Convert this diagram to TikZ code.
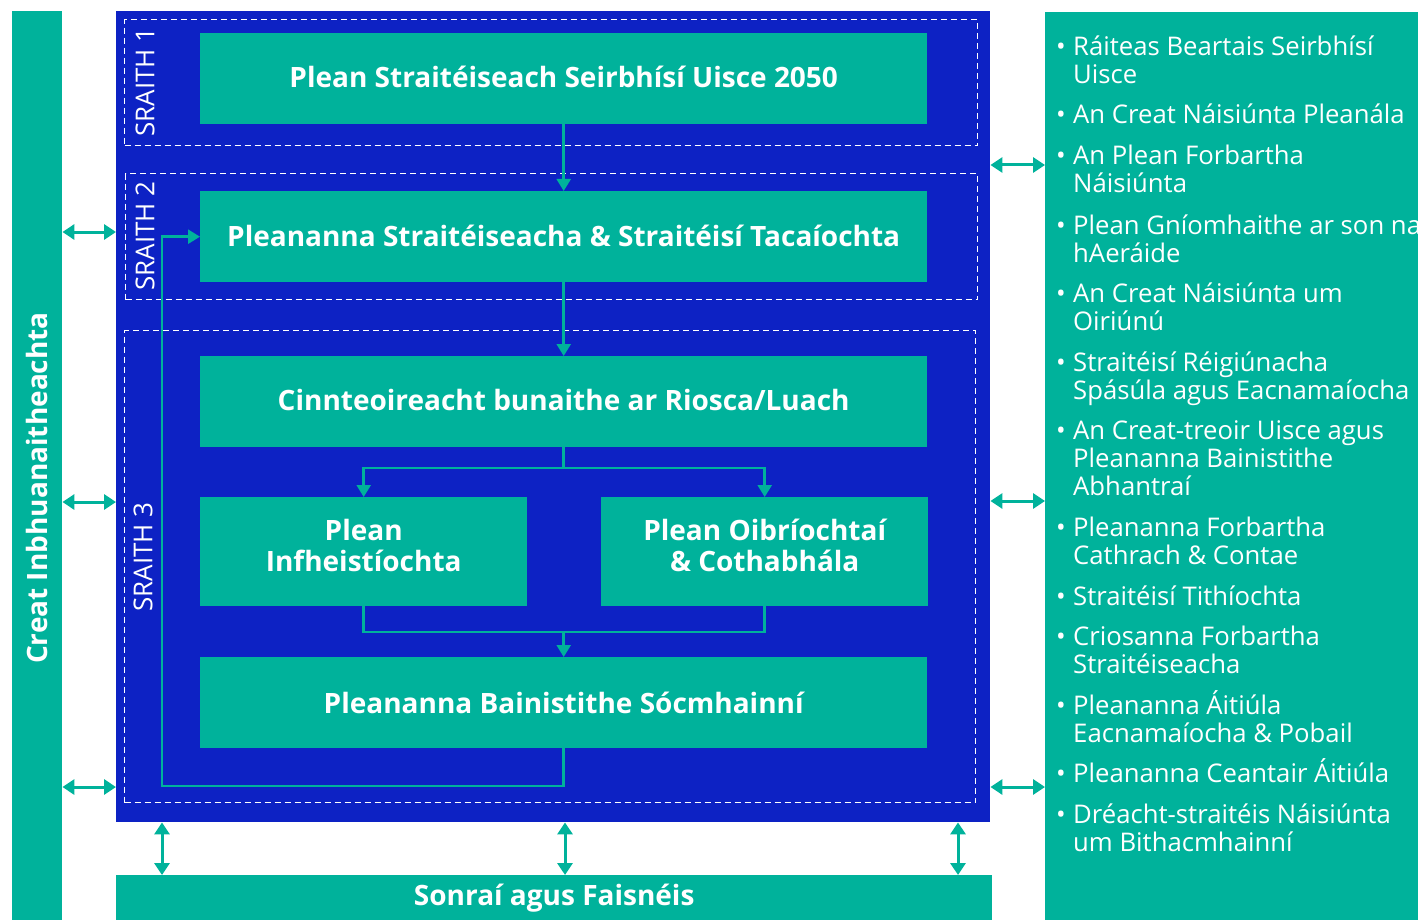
\documentclass[tikz,border=0pt]{standalone}
\usepackage{fontspec}
\setmainfont{Open Sans}
\usetikzlibrary{arrows.meta,calc}
\definecolor{teal1}{RGB}{0,178,155}
\definecolor{blue1}{RGB}{13,34,196}
\tikzset{
  box/.style={fill=teal1, text=white, inner sep=0pt, align=center, anchor=north west, font=\bfseries\fontsize{28}{31}\selectfont},
  boxtext/.style={text=white, inner sep=0pt, align=center, font=\bfseries\fontsize{28}{31}\selectfont},
  flow/.style={draw=teal1, line width=2.5pt, -{Triangle[width=14pt,length=12pt]}},
  plain/.style={draw=teal1, line width=2.5pt},
  dbl/.style={draw=teal1, line width=3pt, {Triangle[width=15pt,length=12pt]}-{Triangle[width=15pt,length=12pt]}},
  phase/.style={draw=white, dash pattern=on 6pt off 4pt, line width=1.3pt, anchor=north west, inner sep=0pt},
  phaselabel/.style={text=white, rotate=90, font=\fontsize{26}{30}\selectfont, inner sep=0pt},
  item/.style={text=white, anchor=base west, inner sep=0pt, font=\fontsize{25.7}{28}\selectfont},
  bul/.style={text=white, anchor=base, inner sep=0pt, font=\fontsize{25.7}{28}\selectfont}
}
\begin{document}
\begin{tikzpicture}[x=1pt,y=-1pt]
\useasboundingbox (0,0) rectangle (1418,920);
% left bar
\node[fill=teal1, inner sep=0pt, anchor=north west, minimum width=50pt, minimum height=909pt] (lbar) at (12,11) {};
\node[text=white, rotate=90, inner sep=0pt, font=\bfseries\fontsize{28}{32}\selectfont] (lbl) at (37,488) {Creat Inbhuanaitheachta};
% main blue panel
\node[fill=blue1, inner sep=0pt, anchor=north west, minimum width=874pt, minimum height=811pt] (blue) at (116,11) {};
% right panel
\node[fill=teal1, inner sep=0pt, anchor=north west, minimum width=373pt, minimum height=908pt] (rpanel) at (1045,12) {};
% bottom bar
\node[fill=teal1, text=white, inner sep=0pt, anchor=north west, minimum width=876pt, minimum height=45pt, font=\bfseries\fontsize{28}{32}\selectfont] (bbar) at (116,875) {Sonraí agus Faisnéis};
% phase frames
\node[phase, minimum width=853pt, minimum height=126pt] (s1) at (124,19) {};
\node[phase, minimum width=852pt, minimum height=126pt] (s2) at (125,173) {};
\node[phase, minimum width=851pt, minimum height=472pt] (s3) at (124,330) {};
\node[phaselabel] (l1) at (145,82) {SRAITH 1};
\node[phaselabel] (l2) at (145,236) {SRAITH 2};
\node[phaselabel] (l3) at (143,557) {SRAITH 3};
% boxes
\node[box, minimum width=727pt, minimum height=91pt] (b1) at (200,33) {};
\node[boxtext] (t1) at ($(b1.center)+(0,-2)$) {Plean Straitéiseach Seirbhísí Uisce 2050};
\node[box, minimum width=727pt, minimum height=91pt] (b2) at (200,191) {};
\node[boxtext] (t2) at ($(b2.center)+(0,-1)$) {Pleananna Straitéiseacha \& Straitéisí Tacaíochta};
\node[box, minimum width=727pt, minimum height=91pt] (b3) at (200,356) {};
\node[boxtext] (t3) at ($(b3.center)+(0,-2)$) {Cinnteoireacht bunaithe ar Riosca/Luach};
\node[box, minimum width=327pt, minimum height=109pt] (b4) at (200,497) {};
\node[boxtext] (t4) at ($(b4.center)+(0,-6)$) {Plean\\Infheistíochta};
\node[box, minimum width=327pt, minimum height=109pt] (b5) at (601,497) {};
\node[boxtext] (t5) at ($(b5.center)+(0,-6)$) {Plean Oibríochtaí\\\& Cothabhála};
\node[box, minimum width=727pt, minimum height=91pt] (b6) at (200,657) {};
\node[boxtext] (t6) at (b6.center) {Pleananna Bainistithe Sócmhainní};
% junctions
\coordinate (j1) at (565,468);
\coordinate (j2) at (565,632);
\coordinate (j3) at (162,786);
% flows
\draw[flow] (b1.south) -- (b2.north);
\draw[flow] (b2.south) -- (b3.north);
\draw[plain] (b3.south) -- (b3.south |- j1);
\draw[flow] (b3.south |- j1) -| (b4.north);
\draw[flow] (b3.south |- j1) -| (b5.north);
\draw[plain] (b4.south) -- (b4.south |- j2) -- (b5.south |- j2) -- (b5.south);
\draw[flow] (b6.north |- j2) -- (b6.north);
\draw[flow] (b6.south) -- (b6.south |- j3) -- (j3) -- (j3 |- b2.west) -- (b2.west);
% left double arrows
\coordinate (y1) at (0,232);
\coordinate (y2) at (0,502);
\coordinate (y3) at (0,787);
\draw[dbl] (lbar.east |- y1) -- (blue.west |- y1);
\draw[dbl] (lbar.east |- y2) -- (blue.west |- y2);
\draw[dbl] (lbar.east |- y3) -- (blue.west |- y3);
% right double arrows
\coordinate (z1) at (0,165);
\coordinate (z2) at (0,501);
\coordinate (z3) at (0,787);
\draw[dbl] (blue.east |- z1) -- (rpanel.west |- z1);
\draw[dbl] (blue.east |- z2) -- (rpanel.west |- z2);
\draw[dbl] (blue.east |- z3) -- (rpanel.west |- z3);
% bottom double arrows
\coordinate (x1) at (162,0);
\coordinate (x2) at (565,0);
\coordinate (x3) at (958,0);
\draw[dbl] (x1 |- blue.south) -- (x1 |- bbar.north);
\draw[dbl] (x2 |- blue.south) -- (x2 |- bbar.north);
\draw[dbl] (x3 |- blue.south) -- (x3 |- bbar.north);
% right list
\foreach \y/\t/\n in {56/{Ráiteas Beartais Seirbhísí}/a1, 84/{Uisce}/a2,
  124/{An Creat Náisiúnta Pleanála}/b1,
  165/{An Plean Forbartha}/c1, 193/{Náisiúnta}/c2,
  234/{Plean Gníomhaithe ar son na}/d1, 262/{hAeráide}/d2,
  302/{An Creat Náisiúnta um}/e1, 330/{Oiriúnú}/e2,
  371/{Straitéisí Réigiúnacha}/f1, 399/{Spásúla agus Eacnamaíocha}/f2,
  439/{An Creat-treoir Uisce agus}/g1, 467/{Pleananna Bainistithe}/g2, 495/{Abhantraí}/g3,
  536/{Pleananna Forbartha}/h1, 564/{Cathrach \& Contae}/h2,
  605/{Straitéisí Tithíochta}/i1,
  645/{Criosanna Forbartha}/k1, 673/{Straitéiseacha}/k2,
  714/{Pleananna Áitiúla}/m1, 742/{Eacnamaíocha \& Pobail}/m2,
  782/{Pleananna Ceantair Áitiúla}/n1,
  823/{Dréacht-straitéis Náisiúnta}/o1, 851/{um Bithacmhainní}/o2}
  \node[item] (r\n) at (1073,\y) {\t};
\foreach \y/\n in {56/1,124/2,165/3,234/4,302/5,371/6,439/7,536/8,605/9,645/10,714/11,782/12,823/13}
  \node[bul] (p\n) at (1061,\y) {•};
\end{tikzpicture}
\end{document}
